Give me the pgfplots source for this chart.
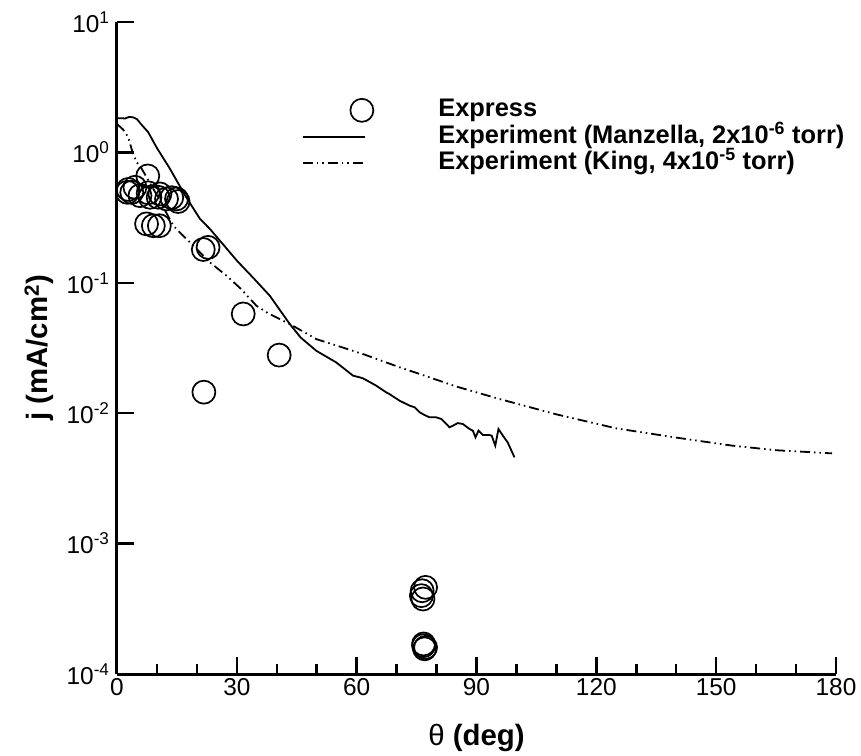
\documentclass[border=0pt]{standalone}
\usepackage{fontspec}
\setmainfont{Liberation Sans}
\usepackage{pgfplots}
\pgfplotsset{compat=1.18}
\pgfplotsset{
  circlelegend/.style={legend image code/.code={\draw[##1] plot coordinates {(59bp,0bp)};}},
  linelegend/.style={legend image code/.code={\draw[##1] (0bp,0bp) -- (62bp,0bp);}},
}
\begin{document}
\begin{tikzpicture}
\useasboundingbox (-117bp,-82bp) rectangle (744bp,674bp);
\begin{axis}[
  at={(0,0)}, anchor=south west,
  scale only axis, width=719bp, height=652bp,
  xmin=0, xmax=180, ymin=1e-4, ymax=10, ymode=log,
  axis x line*=bottom, axis y line*=left,
  axis line style={line width=3bp, black},
  xtick={0,30,60,90,120,150,180},
  xticklabels={0,30,60,90,120,150,180},
  minor x tick num=2,
  ytick={1e-4,1e-3,1e-2,1e-1,1,10},
  yticklabels={10\textsuperscript{-4},10\textsuperscript{-3},10\textsuperscript{-2},10\textsuperscript{-1},10\textsuperscript{0},10\textsuperscript{1}},
  yminorticks=false,
  major tick length=17bp, minor tick length=10bp,
  tick style={line width=2.5bp, black},
  tick label style={font=\fontsize{24.5}{29}\selectfont},
  yticklabel style={xshift=-4bp},
  xticklabel style={yshift=-1bp},
  xlabel={{\normalfont θ} \textbf{(deg)}},
  ylabel={\textbf{j (mA/cm\textsuperscript{2})}},
  label style={font=\fontsize{29.5}{34}\selectfont},
  xlabel style={at={(axis description cs:0.5,-0.098)}, anchor=center},
  ylabel style={at={(axis description cs:-0.108,0.5)}, anchor=center},
  legend style={at={(axis description cs:0.257,0.884)}, anchor=north west,
    draw=none, fill=none, inner sep=0pt,
    font=\fontsize{25.5}{30}\selectfont\bfseries,
    row sep=1.5bp, column sep=63bp,
    nodes={inner sep=2bp, text height=17bp, text depth=4bp}},
  legend cell align=left,
]
\addplot[only marks, mark=o, mark size=11.5bp, line width=1.7bp, black, circlelegend]
  table {
x y
2.6 0.494
2.8 0.52
3.7 0.494
4.5 0.54
5.75 0.466
7.7 0.66
7.8 0.49
8.25 0.453
10.3 0.453
10.75 0.48
12.4 0.44
13.7 0.45
14.9 0.44
15.3 0.42
7.4 0.283
9.1 0.274
10.6 0.274
21.6 0.18
22.8 0.187
31.6 0.0577
40.6 0.0279
21.75 0.0145
76.4 4.35e-4
77.25 4.62e-4
76.2 3.99e-4
76.6 3.76e-4
76.75 1.65e-4
77.25 1.6e-4
77 1.56e-4
76.75 1.7e-4
};
\addlegendentry{\textbf{Express}}
\addplot[black, line width=1.8bp, linelegend] table {
x y
0 1.83
1 1.83
2 1.82
3 1.87
4 1.86
5 1.80
6 1.65
7.8 1.43
10 1.08
13.25 0.75
17 0.47
20.75 0.31
23.25 0.259
27 0.19
30 0.148
34 0.11
38.25 0.0796
43.25 0.0483
46 0.038
49.9 0.0301
54.9 0.0245
59.1 0.0194
60.75 0.01884
61.6 0.0185
64.9 0.01626
67.4 0.01445
68.25 0.014
70.75 0.01247
73.25 0.01143
74.5 0.0111
75.75 0.01016
77 0.00968
78.25 0.0093
79.9 0.0093
81.2 0.00903
83.25 0.0078
84.1 0.00802
85.3 0.0084
86.6 0.00826
88.25 0.00757
89.1 0.00734
89.75 0.00653
90.5 0.00734
91.6 0.0068
93.25 0.0068
93.8 0.00673
94.7 0.00564
95.5 0.00757
96.6 0.00673
97.8 0.00598
99.5 0.00459
};
\addlegendentry{\textbf{Experiment (Manzella, 2x10\textsuperscript{-6} torr)}}
\addplot[black, line width=1.8bp, dash pattern=on 10bp off 4bp on 1.5bp off 4bp on 1.5bp off 4bp, linelegend] table {
x y
0 1.65
1.5 1.5
2.8 1.31
3.7 1.05
4.9 0.84
5.75 0.79
8 0.6
10 0.47
12 0.36
14.1 0.274
16.5 0.23
19.1 0.193
23.25 0.1435
27.4 0.1135
31 0.09
34.9 0.0667
38 0.058
43.25 0.0483
49.9 0.037
55 0.033
61.6 0.0284
66 0.0254
70.75 0.0225
75.75 0.02
85 0.016
95.75 0.01285
110 0.0098
124.9 0.00766
140 0.0065
154 0.00564
165 0.0052
179 0.00492
};
\addlegendentry{\textbf{Experiment (King, 4x10\textsuperscript{-5} torr)}}
\end{axis}
\end{tikzpicture}
\end{document}
